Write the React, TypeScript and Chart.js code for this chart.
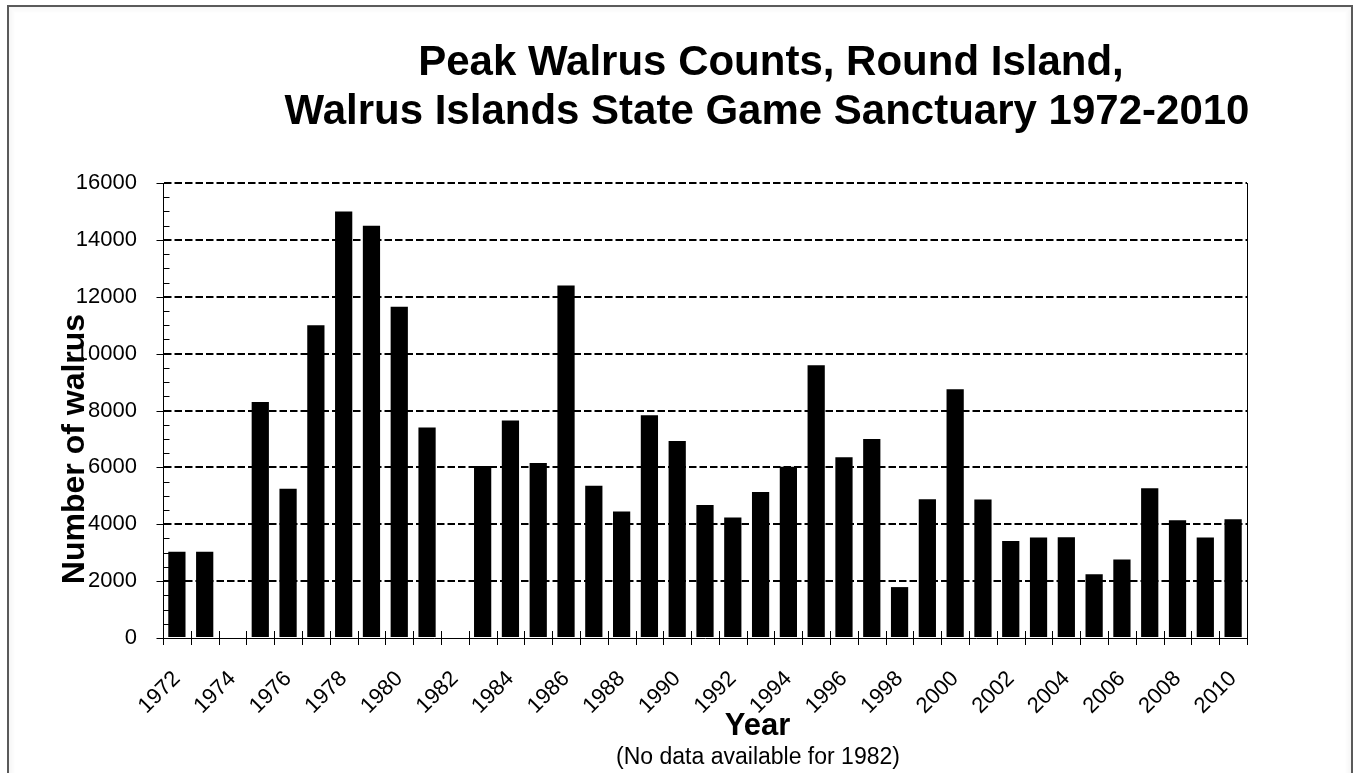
import React, { useEffect, useRef } from 'react';
import { Chart, registerables } from 'chart.js';

Chart.register(...registerables);

const years = [
  '1972', '1973', '1974', '1975', '1976', '1977', '1978', '1979', '1980', '1981',
  '1982', '1983', '1984', '1985', '1986', '1987', '1988', '1989', '1990', '1991',
  '1992', '1993', '1994', '1995', '1996', '1997', '1998', '1999', '2000', '2001',
  '2002', '2003', '2004', '2005', '2006', '2007', '2008', '2009', '2010',
];

const walrusCounts: (number | null)[] = [
  3030, 3030, null, 8300, 5250, 11000, 15000, 14500, 11650, 7400,
  null, 6050, 7650, 6150, 12400, 5350, 4450, 7830, 6930, 4680,
  4240, 5130, 6020, 9590, 6360, 7000, 1790, 4880, 8750, 4870,
  3410, 3530, 3540, 2240, 2760, 5270, 4140, 3530, 4180,
];

const yTicks = [0, 2000, 4000, 6000, 8000, 10000, 12000, 14000, 16000];

const titleLines = ['Peak Walrus Counts, Round Island,', 'Walrus Islands State Game Sanctuary 1972-2010'];
const yTitle = 'Number of walrus';
const xTitle = 'Year';
const footNote = '(No data available for 1982)';

const FONT = '"Liberation Sans", Arial, Helvetica, sans-serif';

const decorPlugin = {
  id: 'decor',
  afterDraw(chart: any) {
    const ctx = chart.ctx as CanvasRenderingContext2D;
    const xs = chart.scales.x;
    const ys = chart.scales.y;
    const area = chart.chartArea;
    ctx.save();

    // outer frame
    for (let i = 1; i <= 6; i++) {
      ctx.strokeStyle = `rgba(0,0,0,${0.035 * (7 - i) / 6})`;
      ctx.lineWidth = 1;
      ctx.strokeRect(8 + i + 0.5, 6 + i + 0.5, 1344 - 2 * i - 1, 900);
    }
    ctx.strokeStyle = '#5a5a5a';
    ctx.lineWidth = 2;
    ctx.strokeRect(8, 6, 1344, 900);

    // right plot border
    ctx.strokeStyle = '#000';
    ctx.lineWidth = 1;
    const rx = Math.round(area.right) + 0.5;
    ctx.beginPath();
    ctx.moveTo(rx, area.top);
    ctx.lineTo(rx, area.bottom);
    ctx.stroke();

    // y ticks: majors outside, minors inside
    const lx = Math.round(area.left) + 0.5;
    ctx.beginPath();
    for (let v = 0; v <= yTicks[yTicks.length - 1]; v += 500) {
      const py = Math.round(ys.getPixelForValue(v)) + 0.5;
      if (v % 2000 === 0) {
        ctx.moveTo(lx - 7, py);
        ctx.lineTo(lx, py);
      } else {
        ctx.moveTo(lx, py);
        ctx.lineTo(lx + 6, py);
      }
    }
    ctx.stroke();

    // x ticks at category boundaries, crossing the axis
    const n = years.length;
    const by = Math.round(area.bottom);
    ctx.beginPath();
    for (let i = 0; i <= n; i++) {
      const px = Math.round(xs.left + (i * (xs.right - xs.left)) / n) + 0.5;
      ctx.moveTo(px, by - 7);
      ctx.lineTo(px, by + 7);
    }
    ctx.stroke();

    ctx.fillStyle = '#000';
    // title
    ctx.font = `bold 42px ${FONT}`;
    ctx.textAlign = 'center';
    ctx.textBaseline = 'alphabetic';
    ctx.fillText(titleLines[0], 771, 75);
    ctx.fillText(titleLines[1], 767, 124);

    // y title
    ctx.save();
    ctx.translate(83.5, 449);
    ctx.rotate(-Math.PI / 2);
    ctx.font = `bold 32px ${FONT}`;
    ctx.textAlign = 'center';
    ctx.fillText(yTitle, 0, 0);
    ctx.restore();

    // x title and note
    ctx.font = `bold 31px ${FONT}`;
    ctx.fillText(xTitle, 757.5, 735);
    ctx.font = `23px ${FONT}`;
    ctx.fillText(footNote, 758, 764);

    ctx.restore();
  },
};

export default function App() {
  const ref = useRef<HTMLCanvasElement>(null);

  useEffect(() => {
    const canvas = ref.current;
    if (!canvas) return;
    const chart = new Chart(canvas, {
      type: 'bar',
      data: {
        labels: years,
        datasets: [
          {
            label: 'Peak walrus count',
            data: walrusCounts,
            backgroundColor: '#000',
            borderWidth: 0,
            barPercentage: 0.62,
            categoryPercentage: 1,
          },
        ],
      },
      options: {
        responsive: false,
        animation: false,
        devicePixelRatio: 1,
        layout: { padding: { left: 0, right: 111, top: 183, bottom: 0 } },
        plugins: {
          legend: { display: false },
          title: { display: false },
          tooltip: { enabled: false },
        },
        scales: {
          x: {
            type: 'category',
            afterFit: (s: any) => {
              s.height = 135;
            },
            grid: { display: false, drawTicks: false },
            border: { display: true, color: '#000', width: 1 },
            ticks: {
              autoSkip: false,
              minRotation: 45,
              maxRotation: 45,
              padding: 28,
              labelOffset: 0,
              color: '#000',
              font: { family: FONT, size: 22 },
              callback: (_v: any, idx: number) => (idx % 2 === 0 ? years[idx] : ''),
            },
          },
          y: {
            min: yTicks[0],
            max: yTicks[yTicks.length - 1],
            afterFit: (s: any) => {
              s.width = 163;
            },
            afterBuildTicks: (s: any) => {
              s.ticks = yTicks.map((v) => ({ value: v }));
            },
            grid: {
              drawTicks: false,
              lineWidth: 2,
              color: (c: any) => (c.tick && c.tick.value === 0 ? 'rgba(0,0,0,0)' : '#000'),
            },
            border: { display: true, color: '#000', width: 1, dash: [7.5, 3] },
            ticks: {
              padding: 26,
              color: '#000',
              font: { family: FONT, size: 22 },
              callback: (v: any) => String(v),
            },
          },
        },
      },
      plugins: [decorPlugin],
    });
    return () => chart.destroy();
  }, []);

  return (
    <div style={{ position: 'absolute', left: 0, top: 0, width: 1358, height: 773, background: '#fff' }}>
      <canvas ref={ref} width={1358} height={773} style={{ display: 'block' }} />
    </div>
  );
}
